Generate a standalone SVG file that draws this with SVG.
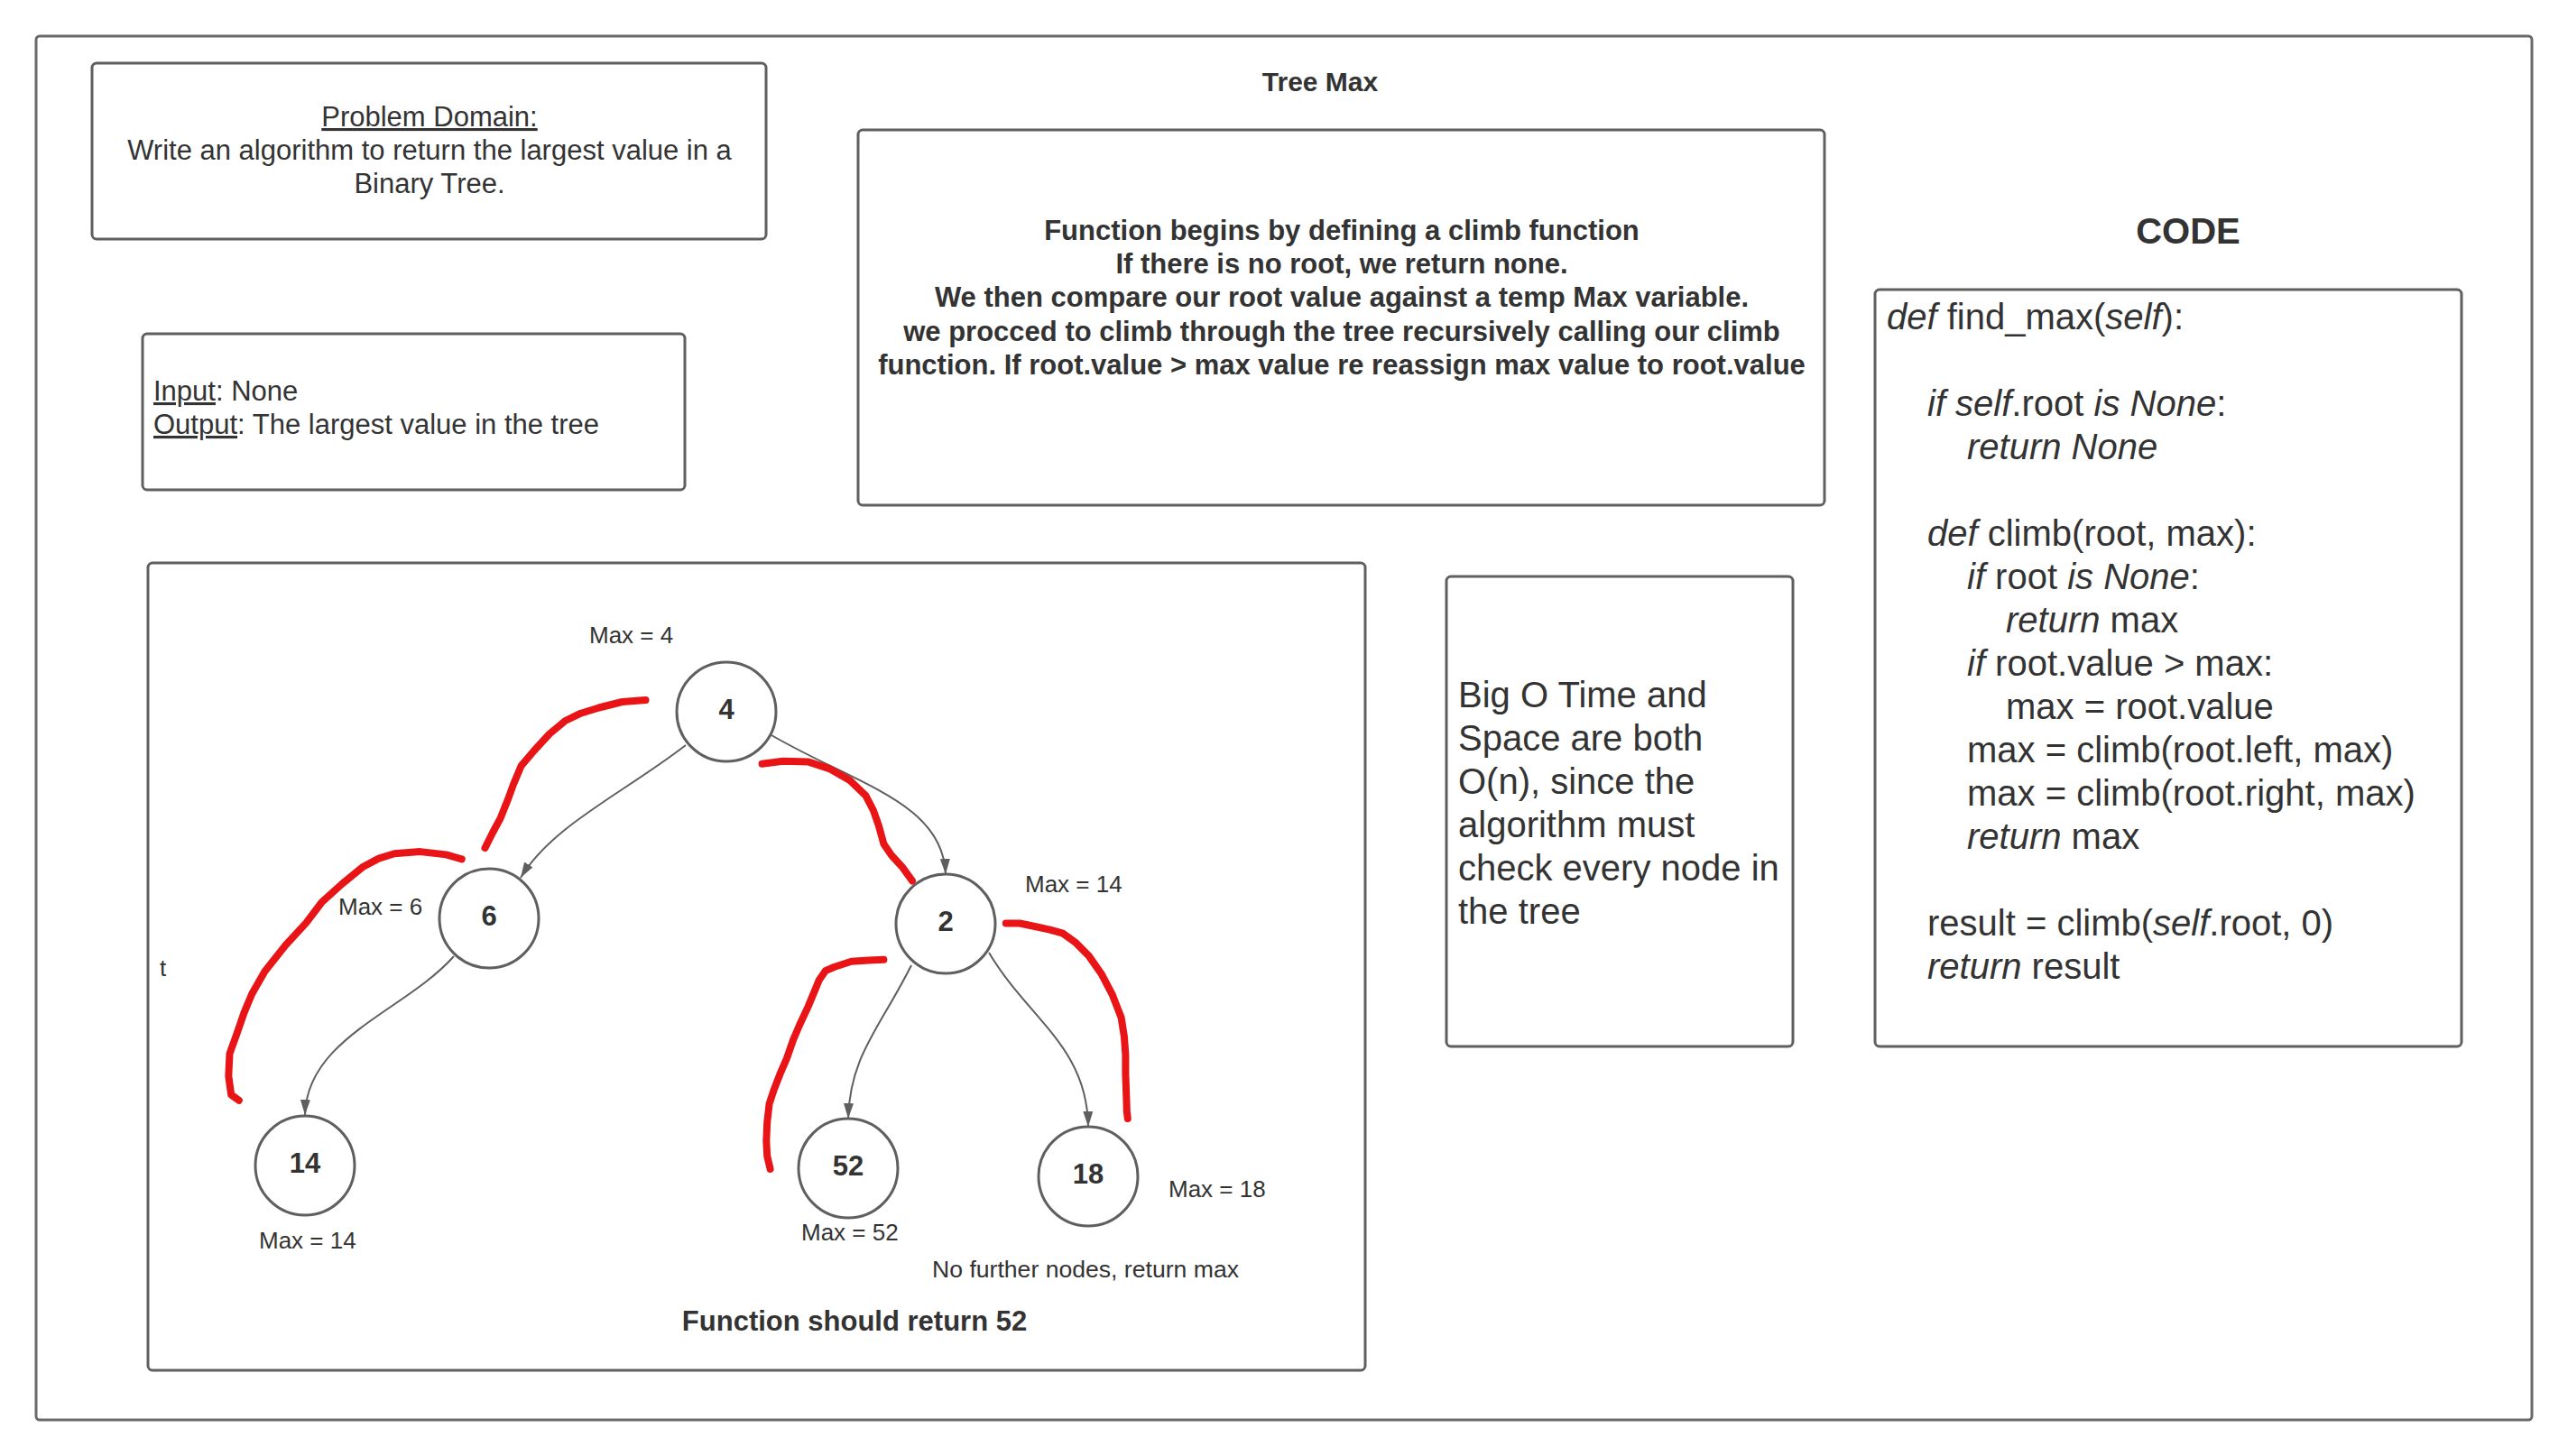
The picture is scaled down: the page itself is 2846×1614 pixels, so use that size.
<svg xmlns="http://www.w3.org/2000/svg" width="2846" height="1614" viewBox="0 0 2846 1614">
<style>
.box{fill:#fff;stroke:#5f5f5f;stroke-width:3}
.frame{fill:none;stroke:#6a6a6a;stroke-width:3}
.nc{fill:#fff;stroke:#5f5f5f;stroke-width:3}
.t{font-family:'Liberation Sans',Arial,sans-serif;fill:#333}
.b{font-weight:bold}
.i{font-style:italic}
.u{text-decoration:underline}
.edge{fill:none;stroke:#5f5f5f;stroke-width:2}
.red{fill:none;stroke:#e81416;stroke-width:8;stroke-linecap:round;stroke-linejoin:round}
</style>
<defs>
<marker id="arr" markerUnits="userSpaceOnUse" markerWidth="18" markerHeight="12" refX="17" refY="5.5" orient="auto">
<path d="M0,0 L17,5.5 L0,11 z" fill="#5f5f5f"/>
</marker>
</defs>
<rect width="2846" height="1614" fill="#fff"/>
<rect id="frame" class="frame" x="40" y="40" width="2766" height="1534" rx="4"/>

<g id="problem">
<rect class="box" x="102" y="70" width="747" height="195" rx="5"/>
<text class="t" font-size="31" text-anchor="middle"><tspan class="u" x="476" y="140">Problem Domain:</tspan><tspan x="476" y="177">Write an algorithm to return the largest value in a</tspan><tspan x="476" y="214">Binary Tree.</tspan></text>
</g>

<g id="io">
<rect class="box" x="158" y="370" width="601" height="173" rx="5"/>
<text class="t" font-size="31" x="170" y="444"><tspan class="u">Input</tspan>: None</text>
<text class="t" font-size="31" x="170" y="481"><tspan class="u">Output</tspan>: The largest value in the tree</text>
</g>

<g id="title">
<text class="t b" font-size="30" x="1463" y="101" text-anchor="middle">Tree Max</text>
</g>

<g id="description">
<rect class="box" x="951" y="144" width="1071" height="416" rx="5"/>
<text class="t b" font-size="31" text-anchor="middle"><tspan x="1487" y="266">Function begins by defining a climb function</tspan><tspan x="1487" y="303">If there is no root, we return none.</tspan><tspan x="1487" y="340">We then compare our root value against a temp Max variable.</tspan><tspan x="1487" y="378">we procced to climb through the tree recursively calling our climb</tspan><tspan x="1487" y="415">function. If root.value &gt; max value re reassign max value to root.value</tspan></text>
</g>

<g id="code-title">
<text class="t b" font-size="40" x="2425" y="270" text-anchor="middle">CODE</text>
</g>

<g id="code">
<rect class="box" x="2078" y="321" width="650" height="839" rx="5"/>
<text class="t" font-size="40" xml:space="preserve"><tspan x="2091" y="365"><tspan class="i">def</tspan> find_max(<tspan class="i">self</tspan>):</tspan><tspan x="2136" y="461"><tspan class="i">if self</tspan>.root <tspan class="i">is None</tspan>:</tspan><tspan x="2180" y="509" class="i">return None</tspan><tspan x="2136" y="605"><tspan class="i">def</tspan> climb(root, max):</tspan><tspan x="2180" y="653"><tspan class="i">if</tspan> root <tspan class="i">is None</tspan>:</tspan><tspan x="2223" y="701"><tspan class="i">return</tspan> max</tspan><tspan x="2180" y="749"><tspan class="i">if</tspan> root.value &gt; max:</tspan><tspan x="2223" y="797">max = root.value</tspan><tspan x="2180" y="845">max = climb(root.left, max)</tspan><tspan x="2180" y="893">max = climb(root.right, max)</tspan><tspan x="2180" y="941"><tspan class="i">return</tspan> max</tspan><tspan x="2136" y="1037">result = climb(<tspan class="i">self</tspan>.root, 0)</tspan><tspan x="2136" y="1085"><tspan class="i">return</tspan> result</tspan></text>
</g>

<g id="bigo">
<rect class="box" x="1603" y="639" width="384" height="521" rx="5"/>
<text class="t" font-size="40"><tspan x="1616" y="784">Big O Time and</tspan><tspan x="1616" y="832">Space are both</tspan><tspan x="1616" y="880">O(n), since the</tspan><tspan x="1616" y="928">algorithm must</tspan><tspan x="1616" y="976">check every node in</tspan><tspan x="1616" y="1024">the tree</tspan></text>
</g>

<g id="tree-panel">
<rect class="box" x="164" y="624" width="1349" height="895" rx="5"/>
<text class="t" font-size="26" x="177" y="1082">t</text>
<text class="t b" font-size="31" x="947" y="1475" text-anchor="middle">Function should return 52</text>
<text class="t" font-size="26.6" x="1033" y="1416">No further nodes, return max</text>
</g>

<g id="connectors">
<path class="edge" marker-end="url(#arr)" d="M760,826 C690,880 612,915 577,973"/>
<path class="edge" marker-end="url(#arr)" d="M855,815 C950,870 1045,890 1048,969"/>
<path class="edge" marker-end="url(#arr)" d="M503,1060 C450,1120 340,1150 338,1236"/>
<path class="edge" marker-end="url(#arr)" d="M1010,1070 C975,1140 942,1170 940,1240"/>
<path class="edge" marker-end="url(#arr)" d="M1096,1056 C1140,1130 1205,1160 1206,1249"/>
</g>

<g id="node-4">
<circle class="nc" cx="805" cy="789" r="55"/>
<text class="t b" font-size="31" x="805" y="797" text-anchor="middle">4</text>
<text class="t" font-size="26" x="653" y="713">Max = 4</text>
</g>
<g id="node-6">
<circle class="nc" cx="542" cy="1018" r="55"/>
<text class="t b" font-size="31" x="542" y="1026" text-anchor="middle">6</text>
<text class="t" font-size="26" x="375" y="1014">Max = 6</text>
</g>
<g id="node-2">
<circle class="nc" cx="1048" cy="1024" r="55"/>
<text class="t b" font-size="31" x="1048" y="1032" text-anchor="middle">2</text>
<text class="t" font-size="26" x="1136" y="989">Max = 14</text>
</g>
<g id="node-14">
<circle class="nc" cx="338" cy="1292" r="55"/>
<text class="t b" font-size="31" x="338" y="1300" text-anchor="middle">14</text>
<text class="t" font-size="26" x="287" y="1384">Max = 14</text>
</g>
<g id="node-52">
<circle class="nc" cx="940" cy="1295" r="55"/>
<text class="t b" font-size="31" x="940" y="1303" text-anchor="middle">52</text>
<text class="t" font-size="26" x="888" y="1375">Max = 52</text>
</g>
<g id="node-18">
<circle class="nc" cx="1206" cy="1304" r="55"/>
<text class="t b" font-size="31" x="1206" y="1312" text-anchor="middle">18</text>
<text class="t" font-size="26" x="1295" y="1327">Max = 18</text>
</g>

<g id="red-marks">
<polyline class="red" points="715.5,776 689.6,778 663.8,784.5 643.7,790.7 626.5,799 609,813.5 592,832 577.7,848.8 569,869.5 563,886 554.7,906.8 546,923 537.5,940"/>
<polyline class="red" points="511.7,952.4 494.4,947.4 465.7,944.1 437,946.2 419.8,951.6 402.6,960.7 379.6,979.4 356.7,1000 339.4,1022.9 316.5,1047.8 293.5,1076.8 279.2,1101.7 270.6,1122.4 262,1147.3 254.5,1168 253.3,1192.9 256.2,1213.6 264.8,1219.8"/>
<polyline class="red" points="844.6,846.7 867.6,843.8 896.3,844.6 919.2,852.1 942.2,865.3 959.4,881.9 968,898.5 973.8,915.1 979.5,935.8 988.1,948.3 999.6,960.7 1011,976.4"/>
<polyline class="red" points="979.4,1063.8 962.7,1064.6 943.5,1065.8 924.4,1072 914.8,1076.2 907.7,1086.6 895.7,1115.6 886.1,1136.3 879,1152.9 871.8,1173.6 864.6,1190.2 857.4,1208.9 852.6,1223.4 850.2,1244.1 849.3,1264.8 850.2,1281.4 853.6,1295.9"/>
<polyline class="red" points="1114.8,1023.5 1130.1,1023.5 1144.5,1026.5 1163.6,1030.6 1178,1034.7 1192.3,1045.1 1206.7,1059.6 1221.1,1080.3 1233,1103.2 1237.8,1115.6 1242.6,1128 1245.9,1148.8 1247.4,1169.5 1247.4,1190.2 1248.3,1215.1 1248.8,1231.7 1249.8,1240"/>
</g>
</svg>
